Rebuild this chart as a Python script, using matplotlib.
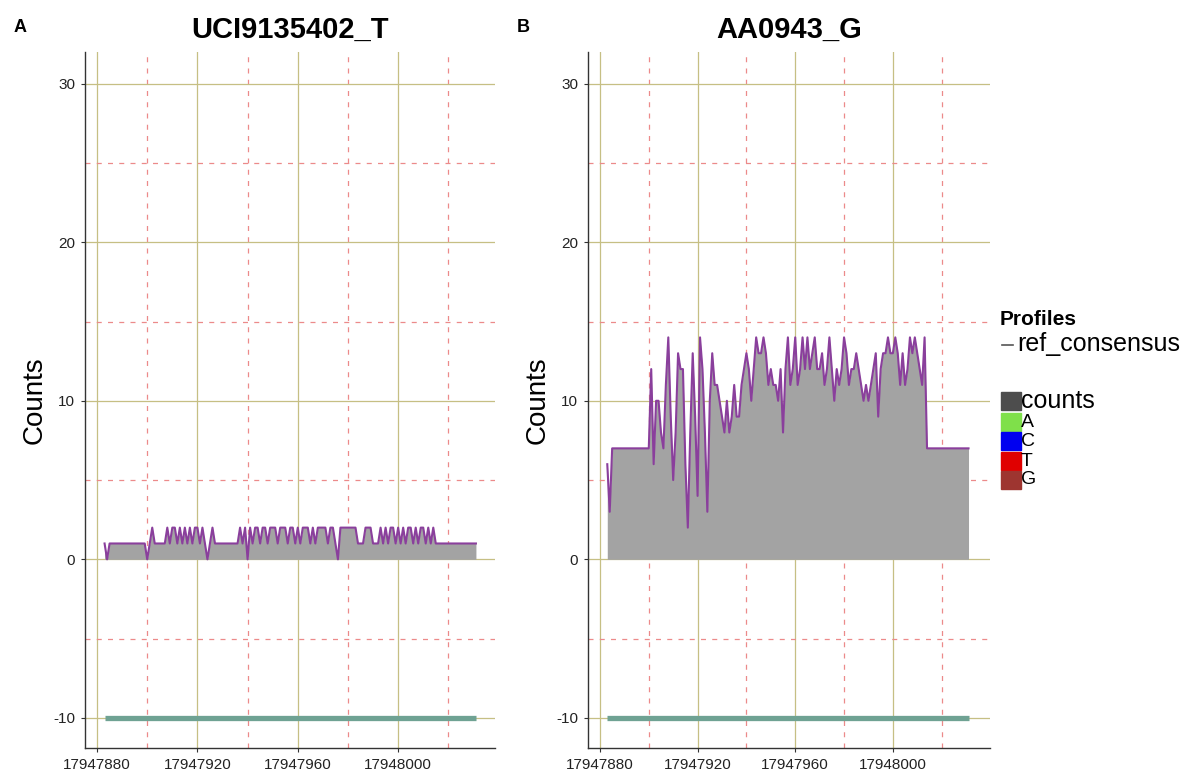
import numpy as np
import matplotlib.pyplot as plt
from matplotlib.patches import Rectangle
from matplotlib.lines import Line2D

plt.rcParams['font.family'] = ['Liberation Sans', 'DejaVu Sans']
plt.rcParams['axes.unicode_minus'] = False

# genomic positions covered by both samples
positions = np.arange(17947883, 17948032)

# coverage counts, sample A (UCI9135402_T)
counts_a = [
    1, 0, 1, 1, 1, 1, 1, 1, 1, 1,
    1, 1, 1, 1, 1, 1, 1, 0, 1, 2,
    1, 1, 1, 1, 1, 2, 1, 2, 2, 1,
    2, 1, 2, 1, 2, 1, 2, 2, 1, 2,
    1, 0, 1, 2, 1, 1, 1, 1, 1, 1,
    1, 1, 1, 1, 2, 1, 2, 0, 2, 1,
    2, 2, 1, 2, 2, 1, 2, 2, 2, 1,
    2, 2, 2, 1, 2, 2, 1, 2, 1, 2,
    2, 2, 1, 2, 1, 2, 2, 2, 2, 1,
    2, 2, 1, 0, 2, 2, 2, 2, 2, 2,
    2, 1, 1, 1, 2, 2, 2, 1, 1, 1,
    2, 1, 2, 1, 2, 2, 1, 2, 1, 2,
    1, 2, 2, 1, 2, 1, 2, 2, 1, 2,
    1, 2, 1, 1, 1, 1, 1, 1, 1, 1,
    1, 1, 1, 1, 1, 1, 1, 1, 1,
]

# coverage counts, sample B (AA0943_G)
counts_b = [
    6, 3, 7, 7, 7, 7, 7, 7, 7, 7,
    7, 7, 7, 7, 7, 7, 7, 7, 12, 6,
    10, 10, 8, 7, 11, 14, 9, 5, 8, 13,
    12, 12, 6, 2, 8, 13, 9, 4, 14, 12,
    8, 3, 10, 13, 11, 11, 10, 9, 8, 10,
    8, 9, 11, 9, 9, 11, 12, 13, 12, 10,
    12, 14, 13, 13, 14, 13, 11, 12, 11, 11,
    10, 12, 8, 12, 14, 11, 12, 14, 11, 12,
    14, 12, 14, 12, 13, 14, 12, 12, 13, 11,
    12, 14, 12, 10, 12, 11, 12, 14, 13, 11,
    12, 12, 13, 12, 11, 10, 11, 10, 11, 12,
    13, 9, 12, 13, 13, 14, 13, 13, 14, 13,
    11, 13, 11, 12, 14, 13, 14, 13, 12, 11,
    14, 7, 7, 7, 7, 7, 7, 7, 7, 7,
    7, 7, 7, 7, 7, 7, 7, 7, 7,
]

ref_track_y = -10
titles = ['UCI9135402_T', 'AA0943_G']
panel_tags = ['A', 'B']
x_major = [17947880, 17947920, 17947960, 17948000]
x_minor = [17947900, 17947940, 17947980, 17948020]
y_major = [-10, 0, 10, 20, 30]
y_minor = [-5, 5, 15, 25]

legend_labels = ['counts', 'A', 'C', 'T', 'G']
legend_colors = ['#4d4d4d', '#7fe04a', '#0000f0', '#e00000', '#9e3530']

W, H = 1191, 774
fig = plt.figure(figsize=(W / 100, H / 100), dpi=100)

# axes boxes in pixels: left, right, xlim
boxes = [(85, 495, (17947875.2, 17948038.6)),
         (588, 990, (17947875.1, 17948039.8))]
top_px, bot_px = 52, 748

for i, (counts, (l, r, xl)) in enumerate(zip([counts_a, counts_b], boxes)):
    ax = fig.add_axes([l / W, 1 - bot_px / H, (r - l) / W, (bot_px - top_px) / H])
    ax.set_xlim(*xl)
    ax.set_ylim(-11.9, 32)

    ax.set_xticks(x_major)
    ax.set_xticks(x_minor, minor=True)
    ax.set_yticks(y_major)
    ax.set_yticks(y_minor, minor=True)
    ax.set_xticklabels([str(v) for v in x_major])
    ax.grid(which='major', color='#c6bf84', lw=0.9)
    ax.grid(which='minor', color='#ec8a8a', lw=0.9, ls=(0, (4, 5)))
    ax.set_axisbelow(True)

    ax.fill_between(positions, counts, 0, color='#a3a3a3', lw=0, zorder=2)
    ax.plot(positions, counts, color='#8a3f9c', lw=1.5, zorder=3)
    ax.hlines(ref_track_y, positions.min(), positions.max(),
              color='#6fa293', lw=3.8, zorder=3)

    for s in ['top', 'right']:
        ax.spines[s].set_visible(False)
    for s in ['left', 'bottom']:
        ax.spines[s].set_color('#333333')
        ax.spines[s].set_linewidth(1.0)
    ax.tick_params(which='major', length=3, color='#333333', labelsize=11,
                   labelcolor='#222222', pad=4)
    ax.tick_params(which='minor', length=0)
    ax.set_ylabel('Counts', fontsize=20, labelpad=4)

    fig.text((l + r) / 2 / W, 1 - 30 / H, titles[i], ha='center', va='center',
             fontsize=21, fontweight='bold')

fig.text(20 / W, 1 - 28 / H, panel_tags[0], ha='center', va='center',
         fontsize=13, fontweight='bold')
fig.text(523 / W, 1 - 28 / H, panel_tags[1], ha='center', va='center',
         fontsize=13, fontweight='bold')

# legend built by hand in figure pixels
fig.text(1000 / W, 1 - 320 / H, 'Profiles', ha='left', va='center',
         fontsize=15, fontweight='bold')
fig.add_artist(Line2D([1002 / W, 1013 / W], [1 - 345 / H, 1 - 345 / H],
                      color='#555555', lw=1.2))
fig.text(1017 / W, 1 - 344 / H, 'ref_consensus', ha='left', va='center',
         fontsize=18)

row_y = [401, 422, 441, 461, 480]
row_size = [18, 14, 14, 14, 14]
for lab, col, y, fs in zip(legend_labels, legend_colors, row_y, row_size):
    fig.add_artist(Rectangle((1001 / W, 1 - (y + 9) / H), 20 / W, 18 / H,
                             color=col, transform=fig.transFigure))
    fig.text(1021 / W, 1 - y / H, lab, ha='left', va='center', fontsize=fs)

fig.savefig('out.png', dpi=100)
